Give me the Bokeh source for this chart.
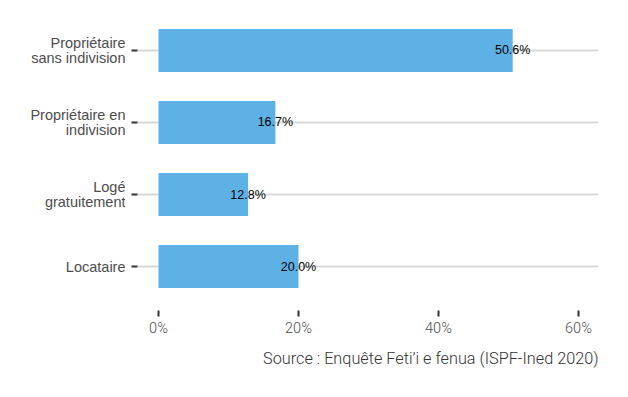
from bokeh.plotting import figure
from bokeh.models import Range1d, ColumnDataSource, FixedTicker, Title
from bokeh.layouts import row
from bokeh.core.properties import value
from bokeh.embed import file_html
from bokeh.resources import INLINE

categories = ["Locataire", "Logé\ngratuitement", "Propriétaire en\nindivision", "Propriétaire\nsans indivision"]
values = [20.0, 12.8, 16.7, 50.6]
value_labels = ["20.0%", "12.8%", "16.7%", "50.6%"]
x_ticks = [0, 20, 40, 60]
x_tick_labels = ["0%", "20%", "40%", "60%"]
source_text = "Source : Enquête Feti’i e fenua (ISPF-Ined 2020)"

pos = list(range(len(categories)))
src = ColumnDataSource(dict(y=pos, v=values, lab=value_labels))

# category label lines, right aligned (one text per line)
LINE_H = 15.0
ly, lt, loff = [], [], []
for i, c in zip(pos, categories):
    parts = c.split("\n")
    n = len(parts)
    for k, part in enumerate(parts):
        ly.append(i)
        lt.append(part)
        loff.append((k - (n - 1) / 2) * LINE_H)
lab_src = ColumnDataSource(dict(x=[1.0] * len(ly), y=ly, t=lt, off=loff))

y_range = Range1d(-0.611, 3.611)
H = 381

# left panel: category labels
pl = figure(width=125, height=H, output_backend="svg", toolbar_location=None,
            x_range=Range1d(0, 1), y_range=y_range,
            x_axis_location=None, y_axis_location=None,
            min_border_left=0, min_border_right=0, min_border_top=6, min_border_bottom=71)
pl.outline_line_color = None
pl.grid.grid_line_color = None
pl.text(x="x", y="y", text="t", y_offset="off", source=lab_src,
        text_align="right", text_baseline="middle",
        text_font=value("Liberation Sans"), text_font_size="14.5px", text_color="#4d4d4d")

# main panel
p = figure(width=487, height=H, output_backend="svg", toolbar_location=None,
           x_range=Range1d(-3.0, 62.86), y_range=y_range,
           min_border_left=12, min_border_right=14, min_border_top=6, min_border_bottom=71)
p.outline_line_color = None
p.background_fill_color = "white"
p.border_fill_color = "white"

p.hbar(y="y", right="v", left=0, height=0.6, source=src, color="#5DB1E4", line_color=None)
p.text(x="v", y="y", text="lab", source=src, text_align="center", text_baseline="middle",
       text_font=value("Liberation Sans"), text_font_size="12.5px", text_color="black")

p.xgrid.grid_line_color = None
p.ygrid.grid_line_color = "#d9d9d9"
p.ygrid.grid_line_width = 2

p.yaxis.ticker = FixedTicker(ticks=pos)
p.yaxis.major_label_overrides = {i: "" for i in pos}
p.yaxis.major_label_standoff = 0
p.xaxis.ticker = FixedTicker(ticks=x_ticks)
p.xaxis.major_label_overrides = {t: l for t, l in zip(x_ticks, x_tick_labels)}

for ax in (p.xaxis, p.yaxis):
    ax.axis_line_color = None
    ax.minor_tick_line_color = None
    ax.major_tick_line_color = "#333333"
    ax.major_tick_line_width = 2
    ax.major_tick_in = 0
    ax.major_tick_out = 6
    ax.major_label_text_color = "#4d4d4d"

p.xaxis.major_label_text_font = "Roboto Light"
p.xaxis.major_label_text_font_size = "14.5px"
p.xaxis.major_label_standoff = 3

t = Title(text=source_text, align="right", text_font="Roboto Light", text_font_size="16.25px",
          text_font_style="normal", text_color="#333333", offset=0, standoff=15)
p.add_layout(t, "below")

layout = row(pl, p, spacing=0)
open("out.html", "w").write(file_html(layout, INLINE))
